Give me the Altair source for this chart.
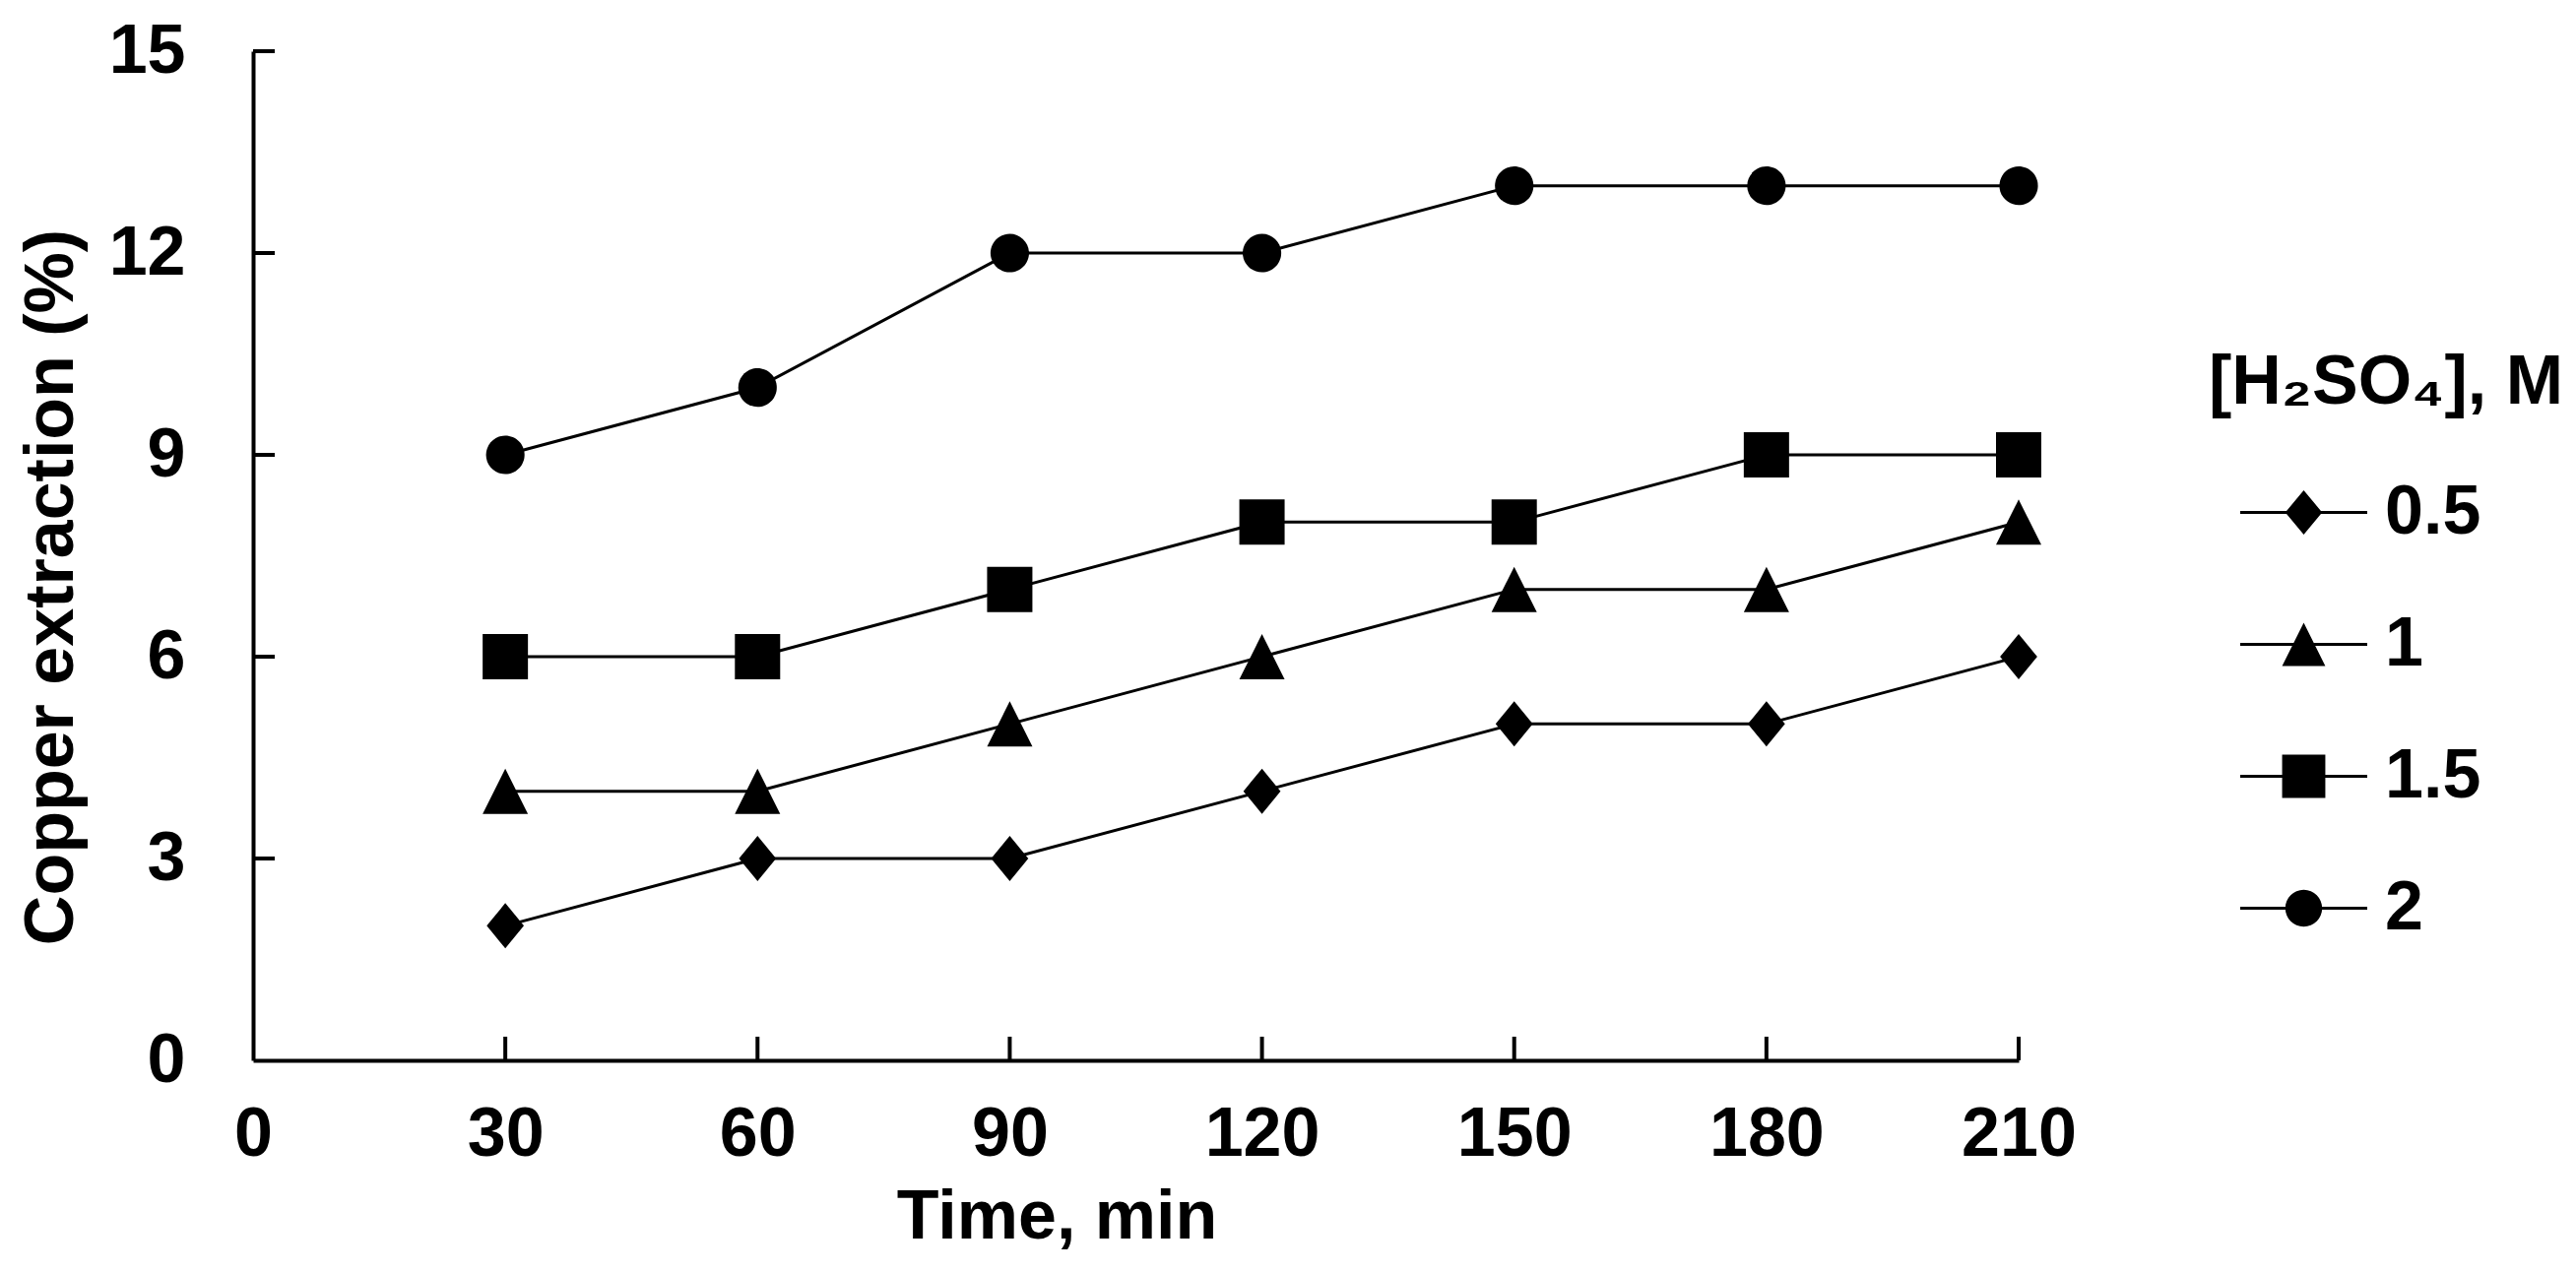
import altair as alt
import pandas as pd

# ---- data ----
times = [30, 60, 90, 120, 150, 180, 210]
series = ["0.5", "1", "1.5", "2"]
ext_05 = [2, 3, 3, 4, 5, 5, 6]
ext_1 = [4, 4, 5, 6, 7, 7, 8]
ext_15 = [6, 6, 7, 8, 8, 9, 9]
ext_2 = [9, 10, 12, 12, 13, 13, 13]
x_ticks = [0, 30, 60, 90, 120, 150, 180, 210]
y_ticks = [0, 3, 6, 9, 12, 15]

rows = []
for s, vals in zip(series, [ext_05, ext_1, ext_15, ext_2]):
    for t, v in zip(times, vals):
        rows.append({"series": s, "time": t, "ext": v})
df = pd.DataFrame(rows)

W, H = 1793, 1025
TOP = 44
FONT = "Liberation Sans"
FS = 70

xscale = alt.Scale(domain=[0, 210], nice=False, zero=False)
yscale = alt.Scale(domain=[0, 15], nice=False)

plot_shapes = [
    "M0,-1L0.82,0L0,1L-0.82,0Z",
    "M0,-1L1,1L-1,1Z",
    "M-1,-1H1V1H-1Z",
    "M-0.85,0A0.85,0.85,0,1,1,0.85,0A0.85,0.85,0,1,1,-0.85,0Z",
]
BAR = "M-1,-0.024H1V0.024H-1Z"
legend_shapes = [
    BAR + "M0,-0.35L0.29,0L0,0.35L-0.29,0Z",
    BAR + "M0,-0.34L0.34,0.34L-0.34,0.34Z",
    BAR + "M-0.34,-0.34H0.34V0.34H-0.34Z",
    BAR + "M-0.29,0A0.29,0.29,0,1,1,0.29,0A0.29,0.29,0,1,1,-0.29,0Z",
]

x_axis = alt.Axis(
    values=x_ticks, format="d", grid=False, ticks=False, tickSize=0,
    domainColor="black", domainWidth=4, labelFlush=False, labelOverlap=False,
    labelFont=FONT, labelFontSize=FS, labelFontWeight="bold", labelColor="black",
    labelPadding=41,
    title="Time, min", titleFont=FONT, titleFontSize=FS, titleFontWeight="bold",
    titleColor="black", titleX=816, titleY=180, titleBaseline="alphabetic",
    titleAlign="center",
)
y_axis = alt.Axis(
    values=y_ticks, format="d", grid=False, ticks=False, tickSize=0,
    domainColor="black", domainWidth=4, labelFlush=False, labelOverlap=False,
    labelFont=FONT, labelFontSize=FS, labelFontWeight="bold", labelColor="black",
    labelPadding=69, labelAlign="right", labelBaseline="middle",
    title="Copper extraction (%)", titleFont=FONT, titleFontSize=FS,
    titleFontWeight="bold", titleColor="black", titleX=-184, titleY=544,
    titleAngle=270, titleAlign="center", titleBaseline="alphabetic",
)

X = alt.X("time:Q", scale=xscale, axis=x_axis)
Y = alt.Y("ext:Q", scale=yscale, axis=y_axis)

lines = alt.Chart(df).mark_line(color="black", strokeWidth=3).encode(
    x=X, y=Y, detail="series:N",
)

points = alt.Chart(df).mark_point(filled=True, color="black", opacity=1, strokeWidth=0).encode(
    x=X, y=Y,
    shape=alt.Shape("series:N", scale=alt.Scale(domain=series, range=plot_shapes), legend=None),
    size=alt.value(2116),
)

legend_layer = alt.Chart(df).transform_filter(alt.datum.time < 0).mark_point(
    filled=True, color="black", opacity=1
).encode(
    x=X, y=Y,
    shape=alt.Shape(
        "series:N",
        scale=alt.Scale(domain=series, range=legend_shapes),
        legend=alt.Legend(
            title="[H₂SO₄], M", orient="none", legendX=1986, legendY=303, padding=0,
            titleFont=FONT, titleFontSize=FS, titleFontWeight="bold", titleColor="black",
            titlePadding=31, titleLimit=1000,
            labelFont=FONT, labelFontSize=FS, labelFontWeight="bold", labelColor="black",
            labelLimit=1000, labelOffset=18,
            symbolSize=16641, symbolStrokeWidth=0, symbolFillColor="black",
            symbolOpacity=1, symbolOffset=32,
            rowPadding=34,
        ),
    ),
)

xt = alt.Chart(pd.DataFrame({"time": x_ticks[1:]})).mark_rule(color="black", strokeWidth=4).encode(
    x=alt.X("time:Q", scale=xscale, axis=x_axis),
    y=alt.value(H),
    y2=alt.value(H - 24),
)
yt = alt.Chart(pd.DataFrame({"ext": y_ticks[1:]})).mark_rule(color="black", strokeWidth=4).encode(
    y=alt.Y("ext:Q", scale=yscale, axis=y_axis),
    x=alt.value(0),
    x2=alt.value(22),
)

chart = alt.layer(lines, xt, yt, points, legend_layer).resolve_scale(
    shape="independent"
).properties(
    width=W, height=H,
    autosize=alt.AutoSizeParams(type="none"),
    padding={"left": 249, "top": TOP, "right": 558, "bottom": 200},
    background="white",
).configure_view(stroke="transparent")

chart.save("out.html", embed_options={"renderer": "svg", "actions": False})
